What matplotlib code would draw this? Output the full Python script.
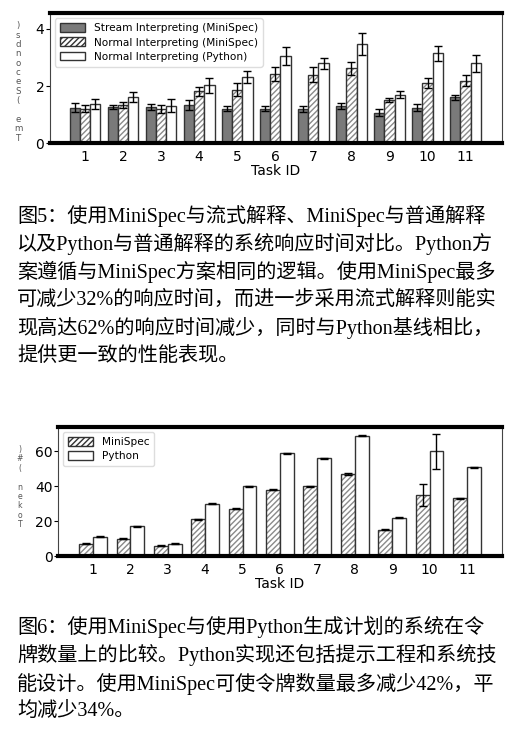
import matplotlib
matplotlib.use('Agg')
import matplotlib.pyplot as plt
from matplotlib.patches import Patch

task_ids = [1, 2, 3, 4, 5, 6, 7, 8, 9, 10, 11]

# Fig 5: response time (seconds)
stream_ms = [1.24, 1.27, 1.26, 1.34, 1.21, 1.21, 1.20, 1.29, 1.07, 1.24, 1.61]
stream_ms_err = [0.15, 0.08, 0.10, 0.17, 0.10, 0.10, 0.10, 0.10, 0.12, 0.12, 0.09]
normal_ms = [1.21, 1.34, 1.20, 1.81, 1.87, 2.42, 2.40, 2.62, 1.51, 2.11, 2.19]
normal_ms_err = [0.12, 0.10, 0.15, 0.17, 0.22, 0.26, 0.27, 0.22, 0.06, 0.17, 0.20]
normal_py = [1.38, 1.61, 1.31, 2.02, 2.32, 3.05, 2.79, 3.47, 1.69, 3.14, 2.80]
normal_py_err = [0.17, 0.17, 0.22, 0.25, 0.22, 0.33, 0.20, 0.38, 0.12, 0.27, 0.30]

# Fig 6: token count
tok_ms = [7, 10, 6, 21, 27, 38, 40, 47, 15, 35, 33]
tok_ms_err = [0.3, 0.3, 0.3, 0.3, 0.3, 0.3, 0.3, 0.6, 0.3, 6.3, 0.3]
tok_py = [11, 17, 7, 30, 40, 59, 56, 69, 22, 60, 51]
tok_py_err = [0.3, 0.3, 0.3, 0.3, 0.3, 0.3, 0.3, 0.3, 0.3, 10, 0.3]

cap5 = ["图5：使用MiniSpec与流式解释、MiniSpec与普通解释",
        "以及Python与普通解释的系统响应时间对比。Python方",
        "案遵循与MiniSpec方案相同的逻辑。使用MiniSpec最多",
        "可减少32%的响应时间，而进一步采用流式解释则能实",
        "现高达62%的响应时间减少，同时与Python基线相比，",
        "提供更一致的性能表现。"]
cap6 = ["图6：使用MiniSpec与使用Python生成计划的系统在令",
        "牌数量上的比较。Python实现还包括提示工程和系统技",
        "能设计。使用MiniSpec可使令牌数量最多减少42%，平",
        "均减少34%。"]

EDGE = '#333333'
HATCH = '#8a8a8a'
DARK = '#7a7a7a'
err_kw = dict(ecolor='black', elinewidth=1.0, capsize=3, capthick=1.0)

fig = plt.figure(figsize=(5.2, 7.34), dpi=100)


def hatched_bars(ax, x, vals, width, err):
    ax.bar(x, vals, width, color='white', edgecolor=HATCH, hatch='//////', linewidth=0)
    ax.bar(x, vals, width, fill=False, edgecolor=EDGE, linewidth=1.0,
           yerr=err, error_kw=err_kw)


def style_axes(ax):
    for s in ('top', 'bottom'):
        ax.spines[s].set_linewidth(3)
    for s in ('left', 'right'):
        ax.spines[s].set_linewidth(0.8)
        ax.spines[s].set_color('#444444')
    ax.set_xticks(task_ids)
    ax.tick_params(axis='x', length=0, labelsize=10, pad=5)
    ax.tick_params(axis='y', length=3, width=0.8, labelsize=10, pad=1)
    ax.set_xlabel('Task ID', fontsize=10, labelpad=0)


def stacked_label(x, y, text, size):
    fig.text(x, y, '\n'.join(reversed(text)), fontsize=size, color='#555555',
             ha='center', va='center', linespacing=1.05)


# --- Figure 5 chart ---
ax1 = fig.add_axes([0.096, 0.805, 0.869, 0.177])
w = 0.27
x = task_ids
ax1.bar([i - w for i in x], stream_ms, w, color=DARK, edgecolor=EDGE, linewidth=1.0,
        yerr=stream_ms_err, error_kw=err_kw)
hatched_bars(ax1, x, normal_ms, w, normal_ms_err)
ax1.bar([i + w for i in x], normal_py, w, color='white', edgecolor=EDGE, linewidth=1.0,
        yerr=normal_py_err, error_kw=err_kw)
ax1.set_xlim(0.08, 11.95)
ax1.set_ylim(0, 4.55)
ax1.set_yticks([0, 2, 4])
style_axes(ax1)
h1 = [Patch(facecolor=DARK, edgecolor=EDGE),
      Patch(facecolor='white', edgecolor=EDGE, hatch='//////'),
      Patch(facecolor='white', edgecolor=EDGE)]
ax1.legend(h1, ['Stream Interpreting (MiniSpec)', 'Normal Interpreting (MiniSpec)',
                'Normal Interpreting (Python)'], loc='upper left', fontsize=7.6,
           handlelength=2.4, handleheight=0.9, labelspacing=0.4, borderpad=0.45,
           edgecolor='#dddddd', framealpha=1)
stacked_label(0.035, 1 - 82 / 734, 'Tme (Seconds)', 6.2)

# --- Figure 6 chart ---
ax2 = fig.add_axes([0.1115, 0.2425, 0.854, 0.1757])
w2 = 0.37
hatched_bars(ax2, [i - w2 / 2 for i in x], tok_ms, w2, tok_ms_err)
ax2.bar([i + w2 / 2 for i in x], tok_py, w2, color='white', edgecolor=EDGE, linewidth=1.0,
        yerr=tok_py_err, error_kw=err_kw)
ax2.set_xlim(0.065, 11.94)
ax2.set_ylim(0, 74)
ax2.set_yticks([0, 20, 40, 60])
style_axes(ax2)
h2 = [Patch(facecolor='white', edgecolor=EDGE, hatch='//////'),
      Patch(facecolor='white', edgecolor=EDGE)]
ax2.legend(h2, ['MiniSpec', 'Python'], loc='upper left', fontsize=7.6,
           handlelength=2.4, handleheight=0.9, labelspacing=0.4, borderpad=0.45,
           edgecolor='#dddddd', framealpha=1)
stacked_label(20 / 520, 1 - 487 / 734, 'Token (#)', 5.6)

# --- captions ---
cap_font = ['Liberation Serif', 'Noto Sans CJK SC']
for k, line in enumerate(cap5):
    fig.text(17 / 520, 1 - (216 + 28 * k) / 734, line, fontsize=14.5, family=cap_font,
             ha='left', va='center')
for k, line in enumerate(cap6):
    fig.text(17 / 520, 1 - (627 + 28.3 * k) / 734, line, fontsize=14.5, family=cap_font,
             ha='left', va='center')

fig.savefig('out.png', dpi=100)
